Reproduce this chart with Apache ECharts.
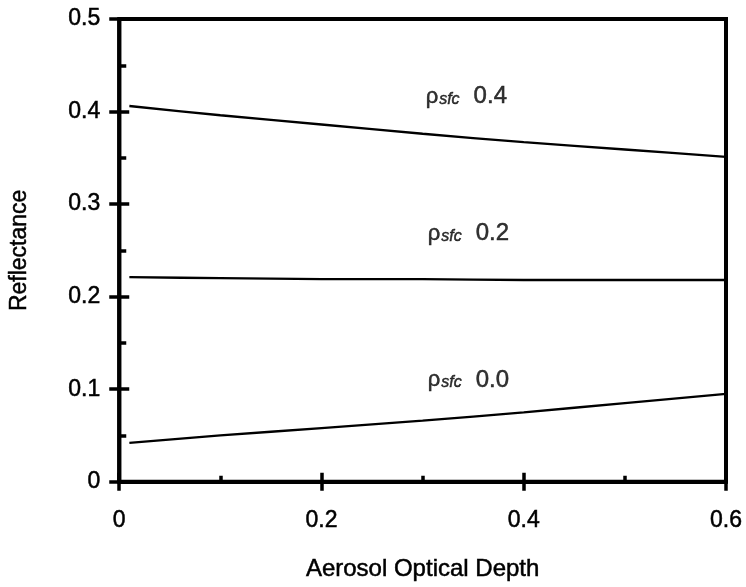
<!DOCTYPE html>
<html>
<head>
<meta charset="utf-8">
<script src="https://cdn.jsdelivr.net/npm/echarts@6/dist/echarts.min.js"></script>
<style>
html,body{margin:0;padding:0;background:#fff;}
#chart{width:746px;height:587px;}
</style>
</head>
<body>
<div id="chart"></div>
<script>
// Data
const aod = [0.01, 0.1, 0.2, 0.3, 0.4, 0.5, 0.6];
const reflSfc04 = [0.406, 0.396, 0.386, 0.376, 0.367, 0.359, 0.351];
const reflSfc02 = [0.221, 0.220, 0.219, 0.219, 0.218, 0.218, 0.218];
const reflSfc00 = [0.042, 0.050, 0.058, 0.066, 0.075, 0.085, 0.095];
const curveNames = ['0.4', '0.2', '0.0'];
const labelAod = [0.303, 0.305, 0.305];
const labelRefl = [0.416, 0.268, 0.110];
const xTicks = [0, 0.2, 0.4, 0.6];
const yTicks = [0, 0.1, 0.2, 0.3, 0.4, 0.5];

const FONT = '"Liberation Sans", Arial, Helvetica, sans-serif';
const fmt = v => (Math.abs(v) < 1e-9 ? '0' : v.toFixed(1));
const tickStyle = {color: '#000', width: 3.5};
const heavy = {textBorderColor: '#000', textBorderWidth: 0.5};

function zip(xs, ys) { return xs.map((x, i) => [x, ys[i]]); }

const chart = echarts.init(document.getElementById('chart'), null, {renderer: 'canvas'});

const lineSeries = [reflSfc04, reflSfc02, reflSfc00].map((ys, i) => ({
  name: 'rho_sfc ' + curveNames[i],
  type: 'line',
  xAxisIndex: 0, yAxisIndex: 0,
  data: zip(aod, ys),
  smooth: 0.3,
  symbol: 'none',
  lineStyle: {color: '#000', width: 2.3},
  silent: true
}));

const labelSeries = {
  type: 'scatter',
  xAxisIndex: 0, yAxisIndex: 0,
  symbolSize: 0,
  silent: true,
  data: curveNames.map((n, i) => ({value: [labelAod[i], labelRefl[i]], name: n})),
  label: {
    show: true,
    position: 'right',
    distance: 0,
    color: '#000',
    formatter: p => '{r|ρ}{s|sfc}{g| }{v|' + p.name + '}',
    rich: {
      r: Object.assign({fontFamily: FONT, fontSize: 22, color: '#000'}, heavy),
      s: Object.assign({fontFamily: FONT, fontSize: 16, fontStyle: 'italic', color: '#000', padding: [6, 0, 0, 1]}, heavy),
      g: {fontFamily: FONT, fontSize: 16, width: 14},
      v: Object.assign({fontFamily: FONT, fontSize: 24, color: '#000'}, heavy)
    }
  }
};

const option = {
  backgroundColor: '#fff',
  animation: false,
  grid: {left: 116, right: 20, top: 19, bottom: 99, show: true, borderColor: '#000', borderWidth: 4, backgroundColor: 'transparent'},
  xAxis: [
    {
      type: 'value', min: xTicks[0], max: xTicks[xTicks.length - 1], interval: 0.2, position: 'bottom',
      axisLine: {show: true, lineStyle: {color: '#000', width: 4}},
      axisTick: {show: true, length: 9, lineStyle: tickStyle},
      axisLabel: Object.assign({formatter: fmt, color: '#000', fontFamily: FONT, fontSize: 23, margin: 27}, heavy),
      splitLine: {show: false},
      name: 'Aerosol Optical Depth', nameLocation: 'middle', nameGap: 76,
      nameTextStyle: Object.assign({color: '#000', fontFamily: FONT, fontSize: 24}, heavy)
    },
    {
      type: 'value', min: xTicks[0], max: xTicks[xTicks.length - 1], interval: 0.2, position: 'bottom', offset: 0,
      axisLine: {show: false},
      axisTick: {show: true, inside: true, length: 9, lineStyle: tickStyle},
      minorTick: {show: true, splitNumber: 2, length: 6, lineStyle: tickStyle},
      axisLabel: {show: false},
      splitLine: {show: false}
    }
  ],
  yAxis: [
    {
      type: 'value', min: yTicks[0], max: yTicks[yTicks.length - 1], interval: 0.1, position: 'left',
      axisLine: {show: true, lineStyle: {color: '#000', width: 4}},
      axisTick: {show: true, length: 10, lineStyle: tickStyle},
      axisLabel: Object.assign({formatter: fmt, color: '#000', fontFamily: FONT, fontSize: 23, margin: 19}, heavy),
      splitLine: {show: false},
      name: 'Reflectance', nameLocation: 'middle', nameGap: 88, nameRotate: 90,
      nameTextStyle: Object.assign({color: '#000', fontFamily: FONT, fontSize: 23}, heavy)
    },
    {
      type: 'value', min: yTicks[0], max: yTicks[yTicks.length - 1], interval: 0.1, position: 'left', offset: 0,
      axisLine: {show: false},
      axisTick: {show: true, inside: true, length: 10, lineStyle: tickStyle},
      minorTick: {show: true, splitNumber: 2, length: 7, lineStyle: tickStyle},
      axisLabel: {show: false},
      splitLine: {show: false}
    }
  ],
  series: lineSeries.concat([labelSeries])
};

chart.setOption(option);
</script>
</body>
</html>
